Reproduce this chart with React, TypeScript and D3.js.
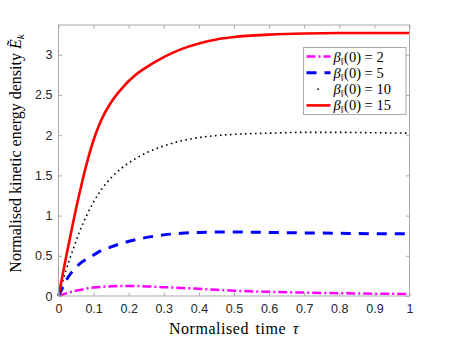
import React, { useRef, useEffect } from 'react';
import * as d3 from 'd3';

// normalised time samples, shared by all four runs
const tValues = [0, 0.01, 0.02, 0.04, 0.06, 0.08, 0.1, 0.12, 0.15, 0.18, 0.22, 0.26, 0.3, 0.35, 0.4, 0.45, 0.5, 0.6, 0.7, 0.8, 0.9, 1.0];

const beta2 = [0, 0.015, 0.03, 0.055, 0.075, 0.092, 0.105, 0.113, 0.12, 0.125, 0.124, 0.118, 0.11, 0.1, 0.089, 0.077, 0.066, 0.052, 0.042, 0.035, 0.029, 0.025];
const beta5 = [0, 0.09, 0.18, 0.31, 0.4, 0.46, 0.51, 0.56, 0.61, 0.655, 0.7, 0.735, 0.76, 0.78, 0.79, 0.795, 0.795, 0.79, 0.785, 0.78, 0.775, 0.775];
const beta10 = [0, 0.15, 0.3, 0.56, 0.8, 1.0, 1.17, 1.31, 1.47, 1.59, 1.71, 1.8, 1.865, 1.93, 1.97, 1.995, 2.01, 2.025, 2.035, 2.035, 2.03, 2.025];
const beta15 = [0, 0.22, 0.45, 0.88, 1.28, 1.64, 1.94, 2.17, 2.41, 2.58, 2.75, 2.87, 2.97, 3.07, 3.14, 3.19, 3.22, 3.25, 3.265, 3.27, 3.27, 3.27];

const legendLabels = ['2', '5', '10', '15'];
const xTicks = [0, 0.1, 0.2, 0.3, 0.4, 0.5, 0.6, 0.7, 0.8, 0.9, 1];
const yTicks = [0, 0.5, 1, 1.5, 2, 2.5, 3];

const series = [
  { name: '2', values: beta2, color: '#ff00ff', width: 2.5, dash: '9,3,2,3' },
  { name: '5', values: beta5, color: '#0000ff', width: 3, dash: '10,8' },
  { name: '10', values: beta10, color: '#000000', width: 1.6, dash: '1.6,3.4' },
  { name: '15', values: beta15, color: '#ff0000', width: 2.6, dash: null },
];

const W = 452;
const H = 339;
const margin = { left: 58.5, top: 25, right: 42.5, bottom: 43 };
const AXIS = '#a8a8a8';
const TXT = '#262626';
const SERIF = '"Liberation Serif", "DejaVu Serif", serif';
const SANS = '"Liberation Sans", Arial, sans-serif';

function App() {
  const svgRef = useRef(null);

  useEffect(() => {
    const width = W - margin.left - margin.right;
    const height = H - margin.top - margin.bottom;

    const x = d3.scaleLinear().domain([0, 1]).range([0, width]);
    const y = d3.scaleLinear().domain([0, 3.37]).range([height, 0]);

    const svgEl = d3.select(svgRef.current);
    svgEl.selectAll('*').remove();
    const svg = svgEl.append('g').attr('transform', `translate(${margin.left},${margin.top})`);

    svg.append('rect').attr('width', width).attr('height', height).attr('fill', 'white');

    const line = d3
      .line()
      .x((d) => x(d[0]))
      .y((d) => y(d[1]))
      .curve(d3.curveMonotoneX);

    series.forEach((s) => {
      svg
        .append('path')
        .datum(tValues.map((t, i) => [t, s.values[i]]))
        .attr('fill', 'none')
        .attr('stroke', s.color)
        .attr('stroke-width', s.width)
        .attr('stroke-dasharray', s.dash)
        .attr('d', line);
    });

    // box axes, ticks pointing inward on all four sides
    const tl = 3.5;
    const styleAxis = (g) => {
      g.select('.domain').remove();
      g.selectAll('line').attr('stroke', AXIS);
      g.selectAll('text').attr('fill', TXT).attr('font-size', 12.5).attr('font-family', SANS);
    };

    svg.append('g').attr('transform', `translate(0,${height})`)
      .call(d3.axisBottom(x).tickValues(xTicks).tickSize(-tl).tickPadding(8).tickFormat(d3.format('')))
      .call(styleAxis);
    svg.append('g')
      .call(d3.axisTop(x).tickValues(xTicks).tickSize(-tl).tickFormat(() => ''))
      .call(styleAxis);
    svg.append('g')
      .call(d3.axisLeft(y).tickValues(yTicks).tickSize(-tl).tickPadding(6).tickFormat(d3.format('')))
      .call(styleAxis);
    svg.append('g').attr('transform', `translate(${width},0)`)
      .call(d3.axisRight(y).tickValues(yTicks).tickSize(-tl).tickFormat(() => ''))
      .call(styleAxis);

    svg.append('rect')
      .attr('width', width).attr('height', height)
      .attr('fill', 'none').attr('stroke', AXIS).attr('stroke-width', 1);

    // axis labels
    const xl = svg.append('text')
      .attr('x', width / 2).attr('y', height + 38)
      .attr('text-anchor', 'middle')
      .attr('letter-spacing', 0.55).attr('word-spacing', 2)
      .attr('font-family', SERIF).attr('font-size', 16).attr('fill', 'black');
    xl.append('tspan').text('Normalised time ');
    xl.append('tspan').attr('font-style', 'italic').text('τ');

    const yl = svg.append('text')
      .attr('transform', `translate(${-38},${height / 2 - 7}) rotate(-90)`)
      .attr('text-anchor', 'middle')
      .attr('font-family', SERIF).attr('font-size', 16).attr('fill', 'black');
    yl.append('tspan').text('Normalised kinetic energy density ');
    yl.append('tspan').attr('font-style', 'italic').text('E\u0303');
    yl.append('tspan').attr('font-style', 'italic').attr('font-size', 11).attr('dy', 3).text('k');

    // legend
    const lg = svg.append('g').attr('transform', `translate(${303.5 - margin.left},${47.5 - margin.top})`);
    lg.append('rect')
      .attr('width', 102.5).attr('height', 67)
      .attr('fill', 'white').attr('stroke', AXIS).attr('stroke-width', 1);

    series.forEach((s, i) => {
      const cy = 9 + i * 16.3;
      if (s.name === '10') {
        lg.append('circle').attr('cx', 14.5).attr('cy', cy).attr('r', 0.9).attr('fill', 'black');
      } else {
        lg.append('line')
          .attr('x1', 3).attr('x2', 27).attr('y1', cy).attr('y2', cy)
          .attr('stroke', s.color).attr('stroke-width', s.width)
          .attr('stroke-dasharray', s.dash);
      }
      const t = lg.append('text')
        .attr('x', 30).attr('y', cy + 5)
        .attr('font-family', SERIF).attr('font-size', 14.5).attr('fill', 'black');
      t.append('tspan').attr('font-style', 'italic').text('β');
      t.append('tspan').attr('font-size', 10).attr('dy', 3).text('‖');
      t.append('tspan').attr('dy', -3).attr('dx', 0.5).text(`(0) = ${legendLabels[i]}`);
    });
  }, []);

  return <svg ref={svgRef} width={W} height={H} style={{ position: 'absolute', left: 0, top: 0 }} />;
}

export default App;
